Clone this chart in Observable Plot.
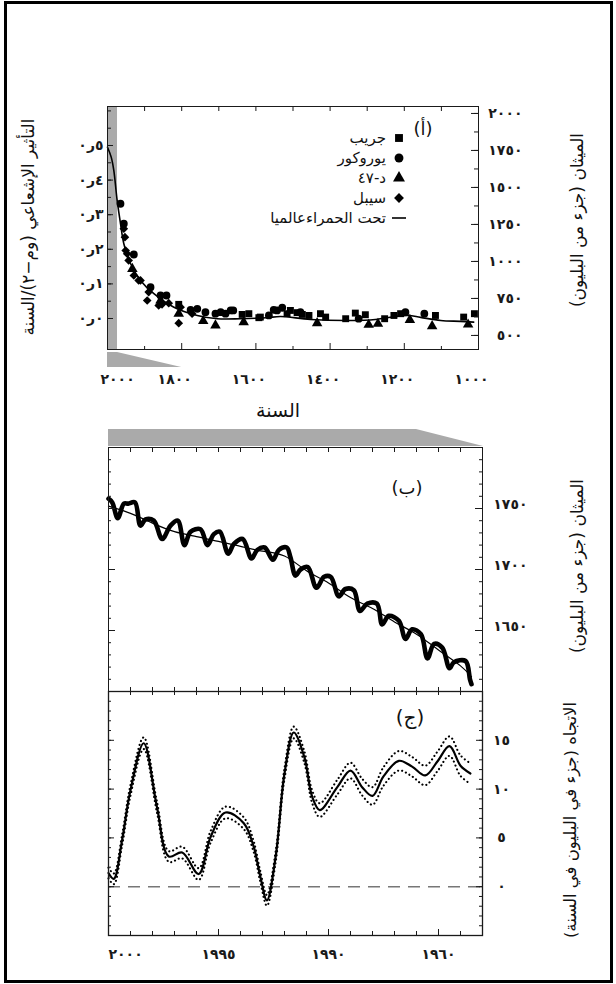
<!DOCTYPE html>
<html>
<head>
<meta charset="utf-8">
<script src="https://cdn.jsdelivr.net/npm/d3@7"></script>
<script src="https://cdn.jsdelivr.net/npm/@observablehq/plot@0.6"></script>
<style>
  body { margin: 0; background: #fff; }
  #fig { position: relative; width: 616px; height: 984px; font-family: "DejaVu Sans", sans-serif; }
</style>
</head>
<body>
<div id="fig"></div>
<script>
// ---------- Panel (أ): ice-core methane over the last millennium ----------
const gripYears = [1808, 1637, 1619, 1592, 1588, 1516, 1507, 1489, 1475, 1457, 1426, 1412, 1358, 1332, 1305, 1253, 1228, 1210, 1116, 1040, 1011];
const gripPpb   = [710, 642, 647, 620, 624, 647, 669, 654, 642, 635, 647, 624, 613, 651, 640, 613, 635, 647, 635, 624, 647];

const eurocoreYears = [1965, 1956, 1929, 1884, 1857, 1841, 1776, 1758, 1736, 1709, 1695, 1682, 1668, 1661, 1565, 1552, 1543, 1529, 1480, 1323, 1197, 1146];
const eurocorePpb   = [1390, 1255, 1047, 826, 770, 770, 673, 680, 657, 647, 657, 647, 669, 669, 635, 673, 669, 687, 657, 613, 657, 647];

const d47Years = [1933, 1857, 1808, 1742, 1709, 1633, 1435, 1296, 1271, 1185, 1125, 1028];
const d47Ppb   = [950, 736, 647, 597, 568, 590, 583, 572, 579, 605, 563, 574];

const sipleYears = [1956, 1953, 1951, 1947, 1943, 1929, 1916, 1911, 1893, 1889, 1862, 1853, 1835, 1808, 1803, 1772];
const siplePpb   = [1221, 1164, 1074, 1052, 1007, 905, 872, 872, 736, 793, 703, 710, 718, 583, 691, 647];

const globalYears = [2000, 1990, 1983, 1974, 1965, 1956, 1938, 1911, 1875, 1821, 1758, 1704, 1642, 1570, 1534, 1453, 1345, 1278, 1224, 1189, 1156, 1102, 1049, 1013];
const globalPpb   = [1772, 1705, 1615, 1412, 1257, 1120, 986, 872, 782, 691, 635, 613, 613, 620, 628, 608, 601, 608, 628, 635, 622, 601, 595, 590];

const seriesNames   = ["جريب", "يوروكور", "د-٤٧", "سيبل"];
const seriesSymbols = ["square", "circle", "triangle", "diamond2"];
const lineName = "تحت الحمراءعالميا";

const aYearTicks  = [2000, 1800, 1600, 1400, 1200, 1000];
const aYearLabels = ["٢٠٠٠", "١٨٠٠", "١٦٠٠", "١٤٠٠", "١٢٠٠", "١٠٠٠"];
const ppbTicks  = [2000, 1750, 1500, 1250, 1000, 750, 500];
const ppbLabels = ["٢٠٠٠", "١٧٥٠", "١٥٠٠", "١٢٥٠", "١٠٠٠", "٧٥٠", "٥٠٠"];
const forcingTicks  = [0, 0.1, 0.2, 0.3, 0.4, 0.5];
// decimal labels kept in left-to-right visual order
const forcingLabels = ["٠ر٠", "٠ر١", "٠ر٢", "٠ر٣", "٠ر٤", "٠ر٥"].map(s => "\u202D" + s + "\u202C");
const aPpbDomain = [405, 2047];
const aForcingDomain = [-0.0896, 0.6127];
const zoomSpan = [2000, 1973];

// ---------- Panel (ب): recent methane with seasonal cycle ----------
const bYears = [2000.0, 1999.83, 1999.58, 1999.3, 1999.1, 1998.8, 1998.55, 1998.32, 1997.94, 1997.56, 1997.18, 1996.85, 1996.55, 1996.27, 1995.82, 1995.5, 1995.21, 1994.94, 1994.56, 1994.3, 1993.9, 1993.5, 1993.24, 1992.9, 1992.53, 1992.26, 1991.9, 1991.73, 1991.5, 1991.27, 1990.94, 1990.55, 1990.2, 1989.9, 1989.53, 1989.23, 1988.85, 1988.57, 1988.24, 1987.8, 1987.56, 1987.26, 1986.8, 1986.5, 1986.2, 1985.8, 1985.5, 1985.2, 1984.83, 1984.5, 1984.3, 1983.77, 1983.57, 1983.5];
const bPpb   = [1758, 1755, 1742, 1754, 1754, 1755, 1736, 1741, 1740, 1725, 1736, 1740, 1720, 1731, 1733, 1720, 1729, 1731, 1713, 1721, 1725, 1709, 1716, 1718, 1708, 1716, 1718, 1710, 1695, 1700, 1702, 1685, 1694, 1694, 1678, 1684, 1683, 1666, 1672, 1672, 1655, 1662, 1658, 1643, 1651, 1647, 1627, 1639, 1636, 1619, 1624, 1625, 1610, 1606];
const bTrendYears = [2000, 1999, 1998, 1997, 1996, 1995, 1994, 1993, 1992, 1991, 1990, 1989, 1988, 1987, 1986, 1985, 1984, 1983.5];
const bTrendPpb   = [1752, 1746, 1738, 1731, 1727, 1723, 1719, 1715, 1711, 1699, 1689, 1677, 1668, 1657, 1647, 1634, 1621, 1612];
const bTicks  = [1650, 1700, 1750];
const bLabels = ["١٦٥٠", "١٧٠٠", "١٧٥٠"];

// ---------- Panel (ج): growth rate with uncertainty ----------
const cYears  = [2000.0, 1999.76, 1999.38, 1999.0, 1998.4, 1997.8, 1997.26, 1996.65, 1995.9, 1995.36, 1994.68, 1993.85, 1993.4, 1993.1, 1992.8, 1992.4, 1992.0, 1991.58, 1991.1, 1990.74, 1990.4, 1989.6, 1989.0, 1988.47, 1988.0, 1987.5, 1986.8, 1986.2, 1985.6, 1985.06, 1984.5, 1984.0, 1983.55];
const cGrowth = [1.4, 0.8, 4.8, 9.9, 14.7, 8.2, 3.1, 3.5, 1.3, 5.1, 7.6, 6.5, 4.1, 1.05, -1.4, 3.1, 11.6, 15.8, 13.3, 9.2, 7.85, 10.2, 11.9, 10.2, 9.3, 11.3, 12.9, 12.3, 11.4, 12.8, 14.4, 12.4, 11.6];
const cSpread = [0.55, 0.55, 0.55, 0.55, 0.6, 0.55, 0.55, 0.6, 0.6, 0.6, 0.6, 0.6, 0.55, 0.55, 0.55, 0.55, 0.55, 0.6, 0.6, 0.65, 0.7, 0.75, 0.8, 0.85, 0.9, 0.95, 1.0, 1.0, 1.0, 1.0, 1.0, 1.05, 1.05];
const cTicks  = [0, 5, 10, 15];
const cLabels = ["٠", "٥", "١٠", "١٥"];
const cYearTicks  = [2000, 1995, 1990, 1985];
const cYearLabels = ["٢٠٠٠", "١٩٩٥", "١٩٩٠", "١٩٦٠"];

// ---------- helpers ----------
const FONT = '"DejaVu Sans", sans-serif';
const INK = "#1a1a1a";
const fig = document.getElementById("fig");
const baseStyle = {background: "transparent", fontFamily: FONT, fontSize: "15px", overflow: "visible", color: INK};
const tickText = {tickSize: 0, label: null, fontWeight: "bold", fontSize: 14};

function place(node, top) {
  const wrap = document.createElement("div");
  wrap.style.cssText = `position:absolute;left:0;top:${top}px;`;
  wrap.appendChild(node);
  fig.appendChild(wrap);
}
// inward tick marks along one edge of the frame
function ticksX(values, len, side, innerH) {
  return Plot.tickX(values, {x: d => d, stroke: INK, strokeWidth: 1,
    insetTop: side === "bottom" ? innerH - len : 0,
    insetBottom: side === "top" ? innerH - len : 0});
}
function ticksY(values, len, side, innerW) {
  return Plot.tickY(values, {y: d => d, stroke: INK, strokeWidth: 1,
    insetLeft: side === "right" ? innerW - len : 0,
    insetRight: side === "left" ? innerW - len : 0});
}
const zip = (xs, ys, kx, ky) => xs.map((v, i) => ({[kx]: v, [ky]: ys[i]}));
const labelMap = (ticks, labels) => new Map(ticks.map((t, i) => [t, labels[i]]));

// ---------- Panel (أ) ----------
const coreRows = [
  ...zip(gripYears, gripPpb, "year", "ppb").map(d => ({...d, core: seriesNames[0]})),
  ...zip(eurocoreYears, eurocorePpb, "year", "ppb").map(d => ({...d, core: seriesNames[1]})),
  ...zip(d47Years, d47Ppb, "year", "ppb").map(d => ({...d, core: seriesNames[2]})),
  ...zip(sipleYears, siplePpb, "year", "ppb").map(d => ({...d, core: seriesNames[3]}))
];
const globalRows = zip(globalYears, globalPpb, "year", "ppb");
const forcingToPpb = d3.scaleLinear(aForcingDomain, aPpbDomain);
const forcingPos = forcingTicks.map(f => forcingToPpb(f));
const forcingLabelAt = new Map(forcingPos.map((p, i) => [p, forcingLabels[i]]));
const aYearLabelAt = labelMap(aYearTicks, aYearLabels);
const ppbLabelAt = labelMap(ppbTicks, ppbLabels);

const aL = 107, aR = 478, aT = 106, aB = 349;
const aW = aR - aL, aH = aB - aT;
const plotA = Plot.plot({
  width: 616, height: 420,
  marginLeft: aL, marginRight: 616 - aR, marginTop: aT, marginBottom: 420 - aB,
  x: {domain: [2000, 1000], axis: null},
  y: {domain: aPpbDomain, axis: null},
  symbol: {domain: seriesNames, range: seriesSymbols},
  style: baseStyle,
  marks: [
    Plot.rect([zoomSpan], {x1: d => d[0], x2: d => d[1], y1: aPpbDomain[0], y2: aPpbDomain[1], fill: "#aaa"}),
    Plot.line(globalRows, {x: "year", y: "ppb", stroke: "#000", strokeWidth: 1.6, curve: "catmull-rom"}),
    Plot.dot(coreRows, {x: "year", y: "ppb", symbol: "core", fill: "#000", stroke: "none", r: 3.9}),
    Plot.frame({stroke: INK}),
    ticksX(d3.range(1000, 2001, 100), 5, "top", aH),
    ticksX([1900, 1700, 1500, 1300, 1100], 3, "bottom", aH),
    ticksX(aYearTicks, 6, "bottom", aH),
    ticksY(d3.range(0, 0.601, 0.05).map(f => forcingToPpb(f)), 4, "left", aW),
    ticksY(forcingPos, 6, "left", aW),
    ticksY(d3.range(500, 2001, 125), 4, "right", aW),
    ticksY(ppbTicks, 7, "right", aW),
    Plot.axisY(forcingPos, {...tickText, anchor: "left", tickPadding: 4, tickFormat: p => forcingLabelAt.get(p)}),
    Plot.axisY(ppbTicks, {...tickText, anchor: "right", tickPadding: 44, textAnchor: "end", tickFormat: d => ppbLabelAt.get(d)}),
    Plot.axisX(aYearTicks.slice(1), {...tickText, anchor: "bottom", tickPadding: 25, dx: -7, tickFormat: d => aYearLabelAt.get(d)}),
    Plot.axisX(aYearTicks.slice(0, 1), {...tickText, anchor: "bottom", tickPadding: 25, dx: -7, textAnchor: "start", tickFormat: d => aYearLabelAt.get(d)})
  ]
});
place(plotA, 0);

// ---------- Panel (ب) ----------
const bL = 108, bR = 482, bT = 447, bB = 691;
const bW = bR - bL, bH = bB - bT;
const bTop = 420;
const bLabelAt = labelMap(bTicks, bLabels);
const plotB = Plot.plot({
  width: 616, height: 280,
  marginLeft: bL, marginRight: 616 - bR, marginTop: bT - bTop, marginBottom: 280 - (bB - bTop),
  x: {domain: [2000, 1983], axis: null},
  y: {domain: [1600, 1800], axis: null},
  style: baseStyle,
  marks: [
    Plot.line(zip(bYears, bPpb, "year", "ppb"), {x: "year", y: "ppb", stroke: "#000", strokeWidth: 4.6, strokeLinejoin: "round", curve: "catmull-rom"}),
    Plot.line(zip(bTrendYears, bTrendPpb, "year", "ppb"), {x: "year", y: "ppb", stroke: "#000", strokeWidth: 1.2, curve: "natural"}),
    Plot.frame({stroke: INK}),
    ticksX(d3.range(1983, 2001, 1), 5, "top", bH),
    ticksX(d3.range(1983, 2001, 1), 4, "bottom", bH),
    ticksY(d3.range(1600, 1801, 10), 3, "left", bW),
    ticksY(d3.range(1600, 1801, 50), 7, "left", bW),
    ticksY(d3.range(1600, 1801, 10), 3, "right", bW),
    ticksY(d3.range(1600, 1801, 50), 7, "right", bW),
    Plot.axisY(bTicks, {...tickText, anchor: "right", tickPadding: 45, textAnchor: "end", dy: -4, tickFormat: d => bLabelAt.get(d)})
  ]
});
place(plotB, bTop);

// ---------- Panel (ج) ----------
const cT = 691, cB = 935;
const cTop = 680;
const cH = cB - cT;
const cRows = cYears.map((y, i) => ({year: y, growth: cGrowth[i], spread: cSpread[i]}));
const cLabelAt = labelMap(cTicks, cLabels);
const cYearLabelAt = labelMap(cYearTicks, cYearLabels);
const dotted = {stroke: "#000", strokeWidth: 2.1, strokeDasharray: "0.1,4", strokeLinecap: "round", curve: "catmull-rom"};
const plotC = Plot.plot({
  width: 616, height: 304,
  marginLeft: bL, marginRight: 616 - bR, marginTop: cT - cTop, marginBottom: 304 - (cB - cTop),
  x: {domain: [2000, 1983], axis: null},
  y: {domain: [-5, 20], axis: null},
  style: baseStyle,
  marks: [
    Plot.ruleY([0], {stroke: "#777", strokeWidth: 1.6, strokeDasharray: "12,8"}),
    Plot.line(cRows, {x: "year", y: d => d.growth + d.spread, ...dotted}),
    Plot.line(cRows, {x: "year", y: d => d.growth - d.spread, ...dotted}),
    Plot.line(cRows, {x: "year", y: "growth", stroke: "#000", strokeWidth: 2.2, curve: "catmull-rom"}),
    Plot.frame({stroke: INK, strokeWidth: 1.3}),
    ticksX(d3.range(1983, 2001, 1), 4, "top", cH),
    ticksX(d3.range(1983, 2001, 1), 4, "bottom", cH),
    ticksX(cYearTicks, 6, "bottom", cH),
    ticksY(d3.range(-5, 20.1, 1), 3, "left", bW),
    ticksY(d3.range(-5, 20.1, 5), 6, "left", bW),
    ticksY(d3.range(-5, 20.1, 1), 3, "right", bW),
    ticksY(d3.range(-5, 20.1, 5), 6, "right", bW),
    Plot.axisY(cTicks, {...tickText, anchor: "right", tickPadding: 19, textAnchor: "middle", tickFormat: d => cLabelAt.get(d)}),
    Plot.axisX(cYearTicks.slice(1), {...tickText, anchor: "bottom", tickPadding: 14, tickFormat: d => cYearLabelAt.get(d)}),
    Plot.axisX(cYearTicks.slice(0, 1), {...tickText, anchor: "bottom", tickPadding: 14, textAnchor: "start", tickFormat: d => cYearLabelAt.get(d)})
  ]
});
place(plotC, cTop);

// ---------- page overlay: border, zoom connectors, titles, legend ----------
const xA = plotA.scale("x").apply;
const xB = plotB.scale("x").apply;
const over = d3.create("svg")
  .attr("width", 616).attr("height", 984)
  .style("position", "absolute").style("left", "0").style("top", "0")
  .style("font-family", FONT);

over.append("rect").attr("x", 5.5).attr("y", 2.5).attr("width", 606).attr("height", 979)
  .attr("fill", "none").attr("stroke", "#000").attr("stroke-width", 3);

// connector under the shaded span of panel (أ)
over.append("polygon").attr("fill", "#aaa")
  .attr("points", [[xA(zoomSpan[0]), aB + 3], [xA(zoomSpan[1]), aB + 3], [xA(1800), aB + 18], [xA(zoomSpan[0]), aB + 18]].join(" "));
// band above panel (ب)
over.append("polygon").attr("fill", "#aaa")
  .attr("points", [[xB(2000), bT - 18], [xB(1986), bT - 18], [xB(1983) + 1, bT - 1], [xB(2000), bT - 1]].join(" "));

function title(x, y, text, size, rotate) {
  over.append("text")
    .attr("transform", `translate(${x},${y})${rotate ? " rotate(-90)" : ""}`)
    .attr("text-anchor", "middle").attr("dominant-baseline", "central")
    .attr("direction", "rtl").attr("font-size", size).attr("fill", "#111")
    .text(text);
}
title(28, 227, "التأثير الإشعاعي (وم−٢)/السنة", 17, true);
title(577, 220, "الميثان (جزء من البليون)", 17, true);
title(577, 566, "الميثان (جزء من البليون)", 17, true);
title(570, 820, "الاتجاه (جزء في البليون في السنة)", 16.5, true);
title(278, 410, "السنة", 19, false);
title(423, 128, "(أ)", 18, false);
title(407, 487, "(ب)", 18, false);
title(410, 717, "(ج)", 20, false);

// legend of panel (أ)
const symbolTypes = {square: d3.symbolSquare, circle: d3.symbolCircle, triangle: d3.symbolTriangle, diamond2: d3.symbolDiamond2};
seriesNames.forEach((name, i) => {
  const y = 138 + i * 20;
  over.append("path")
    .attr("transform", `translate(399,${y})`)
    .attr("d", d3.symbol(symbolTypes[seriesSymbols[i]], 62)())
    .attr("fill", "#000");
  over.append("text").attr("x", 386).attr("y", y).attr("text-anchor", "end")
    .attr("dominant-baseline", "central").attr("font-size", 15).attr("fill", "#111").text(name);
});
over.append("line").attr("x1", 392).attr("x2", 406).attr("y1", 218).attr("y2", 218)
  .attr("stroke", "#000").attr("stroke-width", 1.6);
over.append("text").attr("x", 386).attr("y", 218).attr("text-anchor", "end")
  .attr("dominant-baseline", "central").attr("font-size", 15).attr("fill", "#111").text(lineName);

fig.appendChild(over.node());
</script>
</body>
</html>
